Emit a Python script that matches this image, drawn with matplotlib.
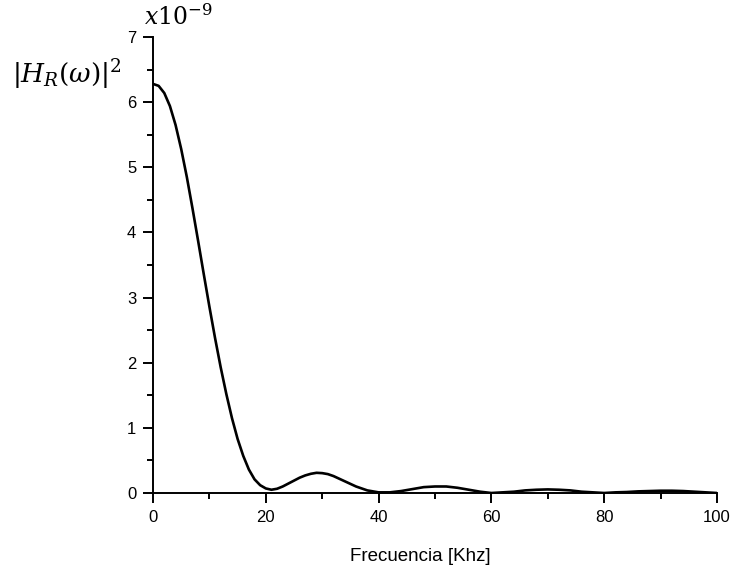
import matplotlib
matplotlib.use("Agg")
import matplotlib.pyplot as plt

plt.rcParams['font.family'] = ['Liberation Sans', 'DejaVu Sans']
plt.rcParams['mathtext.fontset'] = 'stix'

# frecuencia (kHz) y |H_R(w)|^2 (x1e-9)
frec = [0, 1, 2, 3, 4, 5, 6, 7, 8, 9, 10, 11, 12, 13, 14, 15, 16, 17, 18, 19,
        20, 21, 22, 23, 24, 25, 26, 27, 28, 29, 30, 31, 32, 34, 36, 38, 40,
        42, 44, 46, 48, 50, 52, 54, 56, 58, 60, 62, 64, 66, 68, 70, 72, 74,
        76, 78, 80, 82, 84, 86, 88, 90, 92, 94, 96, 98, 100]
hr2 = [6.28, 6.25, 6.14, 5.94, 5.65, 5.28, 4.85, 4.37, 3.87, 3.36, 2.86, 2.38,
       1.93, 1.52, 1.15, 0.83, 0.57, 0.36, 0.21, 0.12, 0.07, 0.05, 0.065, 0.10,
       0.145, 0.19, 0.235, 0.27, 0.295, 0.31, 0.305, 0.29, 0.26, 0.18, 0.10,
       0.04, 0.01, 0.01, 0.03, 0.06, 0.09, 0.10, 0.10, 0.08, 0.05, 0.02, 0.0,
       0.01, 0.02, 0.04, 0.05, 0.055, 0.05, 0.04, 0.02, 0.01, 0.0, 0.01, 0.015,
       0.025, 0.03, 0.035, 0.035, 0.03, 0.02, 0.01, 0.0]

fig = plt.figure(figsize=(7.33, 5.65), dpi=100)
ax = fig.add_axes([153 / 733, 72 / 565, 564 / 733, 456 / 565])

ax.plot(frec, hr2, color='k', lw=1.9)

ax.set_xlim(0, 100)
ax.set_ylim(0, 7)
ax.set_xticks(range(0, 101, 20))
ax.set_xticks(range(10, 100, 20), minor=True)
ax.set_yticks(range(0, 8))
ax.set_yticks([i + 0.5 for i in range(7)], minor=True)

for s in ['top', 'right']:
    ax.spines[s].set_visible(False)
for s in ['left', 'bottom']:
    ax.spines[s].set_linewidth(1.4)

ax.tick_params(which='major', direction='out', length=7, width=1.4,
               labelsize=12, pad=5)
ax.tick_params(which='minor', direction='out', length=4, width=1.4)

ax.set_xlabel('Frecuencia [Khz]', fontsize=13.5)
ax.xaxis.set_label_coords((420 - 153) / 564, -55 / 456)

fig.text(12 / 733, 1 - 75 / 565, r'$|H_R(\omega)|^2$', fontsize=19,
         va='center', ha='left', math_fontfamily='dejavuserif')
fig.text(144 / 733, 1 - 17 / 565, r'$x10^{-9}$', fontsize=17,
         va='center', ha='left', math_fontfamily='dejavuserif')

fig.savefig('out.png', dpi=100)
